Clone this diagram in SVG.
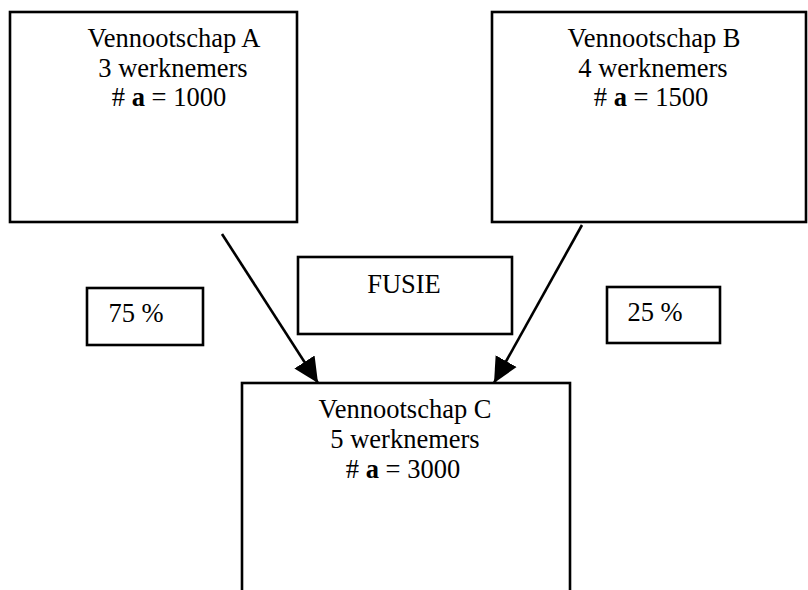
<svg xmlns="http://www.w3.org/2000/svg" width="808" height="590" viewBox="0 0 808 590">
<style>
.box{fill:#fff;stroke:#000;stroke-width:2.6}
.t{font-family:"Liberation Serif","Times New Roman",serif;font-size:26.5px;fill:#000;text-anchor:middle}
.b{font-weight:bold}
.c{stroke:#000;stroke-width:2.6;fill:none}
</style>
<defs>
<marker id="ah" markerUnits="userSpaceOnUse" markerWidth="28" markerHeight="26" refX="25" refY="13" orient="auto" viewBox="0 0 28 26">
<polygon points="0,1 25,13 0,25" fill="#000"/>
</marker>
</defs>
<rect width="808" height="590" fill="#fff"/>
<g id="nodeA">
<rect class="box" x="10" y="12" width="287" height="210"/>
<text class="t" x="174" y="47">Vennootschap A</text>
<text class="t" x="173" y="77">3 werknemers</text>
<text class="t" x="169" y="106"># <tspan class="b">a</tspan> = 1000</text>
</g>
<g id="nodeB">
<rect class="box" x="492" y="12" width="314" height="210"/>
<text class="t" x="654" y="47">Vennootschap B</text>
<text class="t" x="653" y="77">4 werknemers</text>
<text class="t" x="651" y="106"># <tspan class="b">a</tspan> = 1500</text>
</g>
<g id="nodeFusie">
<rect class="box" x="298" y="257" width="214" height="77"/>
<text class="t" x="404" y="293">FUSIE</text>
</g>
<g id="node75">
<rect class="box" x="87" y="288" width="116" height="57"/>
<text class="t" x="136" y="322">75 %</text>
</g>
<g id="node25">
<rect class="box" x="607" y="287" width="113" height="56"/>
<text class="t" x="655" y="321">25 %</text>
</g>
<g id="nodeC">
<rect class="box" x="242" y="383" width="328" height="220"/>
<text class="t" x="405" y="418">Vennootschap C</text>
<text class="t" x="405" y="448">5 werknemers</text>
<text class="t" x="403" y="478"># <tspan class="b">a</tspan> = 3000</text>
</g>
<g id="connectors">
<line class="c" x1="222" y1="234" x2="318" y2="383" marker-end="url(#ah)"/>
<line class="c" x1="582" y1="225" x2="494" y2="383" marker-end="url(#ah)"/>
</g>
</svg>
